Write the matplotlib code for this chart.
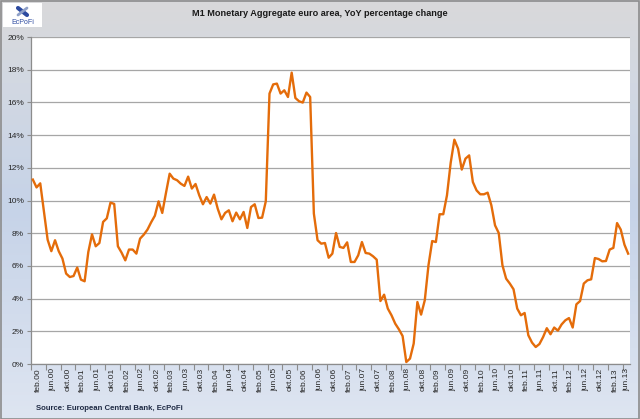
import numpy as np
import matplotlib
matplotlib.use('Agg')
from matplotlib import pyplot as plt
from matplotlib.colors import LinearSegmentedColormap
from matplotlib.patches import Rectangle

# M1 YoY growth, monthly, feb.2000 - jul.2013
m1_growth = [
    11.28, 10.80, 11.05, 9.30, 7.60, 6.90, 7.57, 6.90, 6.45, 5.53,
    5.32, 5.38, 5.90, 5.16, 5.06, 6.85, 7.93, 7.20, 7.40, 8.69,
    8.91, 9.87, 9.79, 7.20, 6.81, 6.34, 7.00, 7.00, 6.75, 7.67,
    7.91, 8.22, 8.67, 9.07, 9.95, 9.24, 10.46, 11.64, 11.34, 11.24,
    11.03, 10.89, 11.46, 10.73, 11.01, 10.32, 9.77, 10.21, 9.81, 10.36,
    9.50, 8.85, 9.24, 9.40, 8.73, 9.26, 8.85, 9.30, 8.32, 9.60,
    9.77, 8.93, 8.95, 9.95, 16.54, 17.10, 17.15, 16.54, 16.74, 16.33,
    17.82, 16.27, 16.07, 15.99, 16.60, 16.33, 9.20, 7.57, 7.36, 7.40,
    6.50, 6.75, 8.01, 7.16, 7.10, 7.44, 6.24, 6.24, 6.65, 7.46,
    6.79, 6.75, 6.59, 6.38, 3.85, 4.24, 3.39, 2.98, 2.47, 2.12,
    1.71, 0.12, 0.33, 1.25, 3.79, 3.02, 3.90, 6.04, 7.52, 7.46,
    9.16, 9.16, 10.32, 12.30, 13.72, 13.17, 11.89, 12.56, 12.76, 11.13,
    10.62, 10.38, 10.38, 10.48, 9.71, 8.48, 8.01, 6.04, 5.22, 4.92,
    4.57, 3.39, 2.98, 3.12, 1.76, 1.31, 1.04, 1.22, 1.65, 2.19,
    1.82, 2.23, 2.04, 2.42, 2.67, 2.81, 2.23, 3.65, 3.85, 4.92,
    5.12, 5.18, 6.48, 6.42, 6.28, 6.30, 7.00, 7.10, 8.62, 8.22,
    7.30, 6.75,
]

# every 4th month gets a label
tick_labels = [
    'feb.00', 'jun.00', 'okt.00', 'feb.01', 'jun.01', 'okt.01', 'feb.02',
    'jun.02', 'okt.02', 'feb.03', 'jun.03', 'okt.03', 'feb.04', 'jun.04',
    'okt.04', 'feb.05', 'jun.05', 'okt.05', 'feb.06', 'jun.06', 'okt.06',
    'feb.07', 'jun.07', 'okt.07', 'feb.08', 'jun.08', 'okt.08', 'feb.09',
    'jun.09', 'okt.09', 'feb.10', 'jun.10', 'okt.10', 'feb.11', 'jun.11',
    'okt.11', 'feb.12', 'jun.12', 'okt.12', 'feb.13', 'jun.13',
]

title = 'M1 Monetary Aggregate euro area, YoY percentage change'
source = 'Source: European Central Bank, EcPoFi'

plt.rcParams['font.family'] = ['Liberation Sans', 'DejaVu Sans']

fig = plt.figure(figsize=(6.4, 4.19), dpi=100)

# background gradient (gray at top, light blue lower down)
bg = fig.add_axes([0, 0, 1, 1], zorder=-10)
grad = LinearSegmentedColormap.from_list(
    'bg', [(0.0, '#d9d9da'), (0.2, '#d2d8e2'), (0.5, '#c6d3e8'), (1.0, '#dee5f1')])
bg.imshow(np.linspace(0, 1, 256).reshape(-1, 1), aspect='auto', cmap=grad,
          extent=[0, 1, 0, 1])
bg.set_xlim(0, 1)
bg.set_ylim(0, 1)
bg.axis('off')
bg.add_patch(Rectangle((0.001, 0.001), 0.997, 0.996, fill=False,
                       edgecolor='#8c8c8c', linewidth=1.2))

# logo placeholder
bg.add_patch(Rectangle((3 / 640, 1 - 27 / 419), 39 / 640, 24 / 419,
                       facecolor='white', edgecolor='none'))
bg.text(22.5 / 640, 1 - 23 / 419, 'EcPoFi', color='#2c4aa0', fontsize=5,
        ha='center', va='center')
bg.plot([18 / 640, 27 / 640], [1 - 8 / 419, 1 - 15 / 419], color='#2c4aa0',
        linewidth=3, solid_capstyle='round')
bg.plot([18 / 640, 27 / 640], [1 - 15 / 419, 1 - 8 / 419], color='#8fa0c8',
        linewidth=2, solid_capstyle='round')

ax = fig.add_axes([31 / 640, 1 - 364 / 419, 599 / 640, 327 / 419])
ax.set_facecolor('white')

x = np.arange(len(m1_growth))
ax.plot(x, m1_growth, color='#e46c0a', linewidth=1.7, zorder=3)

n = len(m1_growth)
ax.set_xlim(-0.5, n - 0.5)
ax.set_ylim(0, 20)

ax.set_yticks(np.arange(0, 21, 2))
ax.set_yticklabels(['{}%'.format(v) for v in range(0, 21, 2)])
ax.grid(axis='y', color='#a6a6a6', linewidth=0.9)
ax.set_axisbelow(True)

# tick marks between groups of 4 months, labels centred in each group
edges = np.arange(-0.5, n, 4)
ax.set_xticks(edges)
ax.set_xticklabels([])
centres = [(e + min(e + 4, n - 0.5)) / 2 for e in edges[:len(tick_labels)]]
ax.set_xticks(centres, minor=True)
ax.set_xticklabels(tick_labels, minor=True, rotation=90, fontsize=6,
                   color='#262626')
ax.tick_params(axis='x', which='minor', length=0, pad=3)
ax.tick_params(axis='x', which='major', length=4, color='#8c8c8c')
ax.tick_params(axis='y', length=3, color='#8c8c8c', labelsize=6,
               labelcolor='#262626', pad=2)

for side in ['top', 'right']:
    ax.spines[side].set_visible(False)
for side in ['left', 'bottom']:
    ax.spines[side].set_color('#8c8c8c')
    ax.spines[side].set_linewidth(0.9)

fig.text(320 / 640, 1 - 14 / 419, title, ha='center', va='center',
         fontsize=6.6, fontweight='bold', color='#1a1a1a')
fig.text(36 / 640, 1 - 408 / 419, source, ha='left', va='center',
         fontsize=5.6, fontweight='bold', color='#1f2a44')

fig.savefig('out.png', dpi=100)
